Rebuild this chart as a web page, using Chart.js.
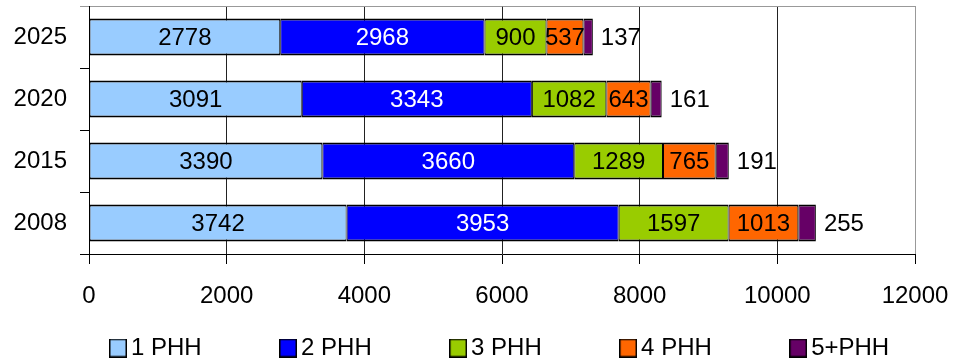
<!DOCTYPE html>
<html>
<head>
<meta charset="utf-8">
<script src="https://cdn.jsdelivr.net/npm/chart.js@4/dist/chart.umd.min.js"></script>
<style>
  html, body { margin: 0; padding: 0; background: #fff; }
  #wrap { width: 955px; height: 363px; }
</style>
</head>
<body>
<div id="wrap"><canvas id="households"></canvas></div>
<script>
const years = ["2025", "2020", "2015", "2008"]
const onePerson = [2778, 3091, 3390, 3742]
const twoPerson = [2968, 3343, 3660, 3953]
const threePerson = [900, 1082, 1289, 1597]
const fourPerson = [537, 643, 765, 1013]
const fivePlus = [137, 161, 191, 255]
const seriesNames = ["1 PHH", "2 PHH", "3 PHH", "4 PHH", "5+PHH"]
const xTicks = [0, 2000, 4000, 6000, 8000, 10000, 12000]

const colors = ["#99CCFF", "#0000FF", "#99CC00", "#FF6600", "#660066"]
const labelColors = ["#000", "#fff", "#000", "#000", "#000"]
const mainFont = "'Liberation Sans', Arial, sans-serif"
const legendFont = { family: mainFont, size: 24 }

// legend: every item but the last gets the same slot width (text padded with
// spaces), the swatch is a small canvas used as point style so it sits close to the text
const LEGEND_SLOT = 171
const LEGEND_PAD = 10
const SWATCH_W = 2

const measureCtx = document.createElement("canvas").getContext("2d")
function padText(text) {
  measureCtx.font = `${legendFont.size}px ${legendFont.family}`
  const room = LEGEND_SLOT - SWATCH_W - legendFont.size / 2 - LEGEND_PAD
  let out = text
  while (measureCtx.measureText(out + " ").width <= room) out += " "
  while (measureCtx.measureText(out + "\u200A").width <= room) out += "\u200A"
  return out
}

function swatch(color) {
  const c = document.createElement("canvas")
  c.width = 18
  c.height = 19
  const g = c.getContext("2d")
  g.fillStyle = color
  g.fillRect(1, 1, 16, 17)
  g.strokeStyle = "#000"
  g.lineWidth = 1.5
  g.strokeRect(0.75, 0.75, 16.5, 17.5)
  return c
}
const swatches = colors.map(swatch)

// numbers inside the segments, the last one just past the bar end
const barLabels = {
  id: "barLabels",
  afterDatasetsDraw(chart) {
    const ctx = chart.ctx
    const count = chart.data.datasets.length
    ctx.save()
    ctx.font = `24px ${mainFont}`
    ctx.textBaseline = "middle"
    chart.data.datasets.forEach((ds, i) => {
      const meta = chart.getDatasetMeta(i)
      ctx.fillStyle = labelColors[i]
      meta.data.forEach((bar, j) => {
        const value = ds.data[j]
        if (i === count - 1) {
          ctx.textAlign = "left"
          ctx.fillText(value, bar.x + 8, bar.y + 1)
        } else {
          ctx.textAlign = "center"
          ctx.fillText(value, (bar.x + bar.base) / 2, bar.y + 1)
        }
      })
    })
    ctx.restore()
  },
}

// start the legend row near the plot's left edge and let it run to the canvas edge
const legendShift = {
  id: "legendShift",
  afterLayout(chart) {
    if (!chart.legend) return
    chart.legend.left = chart.chartArea.left + 18
    chart.legend.right = chart.width
  },
}

const series = [onePerson, twoPerson, threePerson, fourPerson, fivePlus]

new Chart(document.getElementById("households"), {
  type: "bar",
  data: {
    labels: years,
    datasets: series.map((values, i) => ({
      label: seriesNames[i],
      data: values,
      backgroundColor: colors[i],
      borderColor: "#000",
      borderWidth: { top: 2, bottom: 2, left: 1, right: 1 },
      borderSkipped: false,
      barPercentage: 0.6,
      categoryPercentage: 1,
    })),
  },
  options: {
    indexAxis: "y",
    responsive: true,
    maintainAspectRatio: false,
    animation: false,
    layout: {
      padding: { top: 6, right: 40, left: 0, bottom: -7 }
    },
    scales: {
      x: {
        stacked: true,
        min: 0,
        max: 12000,
        afterBuildTicks: (s) => { s.ticks = xTicks.map(v => ({ value: v })) },
        afterFit: (s) => {
          s.height = 72
          s.paddingLeft = 0
          s.paddingRight = 0
        },
        grid: {
          color: (c) => (c.tick && c.tick.value === 12000 ? "#999" : "#222"),
          lineWidth: 1,
          tickLength: 10,
          tickColor: "#000",
        },
        border: { color: "#000", width: 1 },
        ticks: {
          color: "#000",
          padding: 18,
          font: { family: mainFont, size: 24 },
          maxRotation: 0,
          callback: (v) => String(v),
        },
      },
      y: {
        stacked: true,
        afterFit: (s) => {
          s.width = 89
          s.paddingTop = 0
          s.paddingBottom = 0
        },
        grid: {
          offset: true,
          color: (c) => (c.index === 0 ? "#999" : "transparent"),
          tickColor: (c) => (c.index === 0 ? "#999" : "#000"),
          tickLength: 9,
        },
        border: { color: "#000", width: 1 },
        ticks: {
          color: "#000",
          padding: 13,
          font: { family: mainFont, size: 24 },
        },
      },
    },
    plugins: {
      tooltip: { enabled: false },
      legend: {
        position: "bottom",
        align: "start",
        labels: {
          color: "#000",
          font: legendFont,
          usePointStyle: true,
          pointStyleWidth: SWATCH_W,
          boxHeight: 19,
          padding: LEGEND_PAD,
          generateLabels: (chart) => {
            const items = Chart.defaults.plugins.legend.labels.generateLabels(chart)
            return items.map((item, i) => ({
              ...item,
              text: i < items.length - 1 ? padText(item.text) : item.text,
              pointStyle: swatches[i],
            }))
          },
        },
      },
    },
  },
  plugins: [barLabels, legendShift],
})
</script>
</body>
</html>
